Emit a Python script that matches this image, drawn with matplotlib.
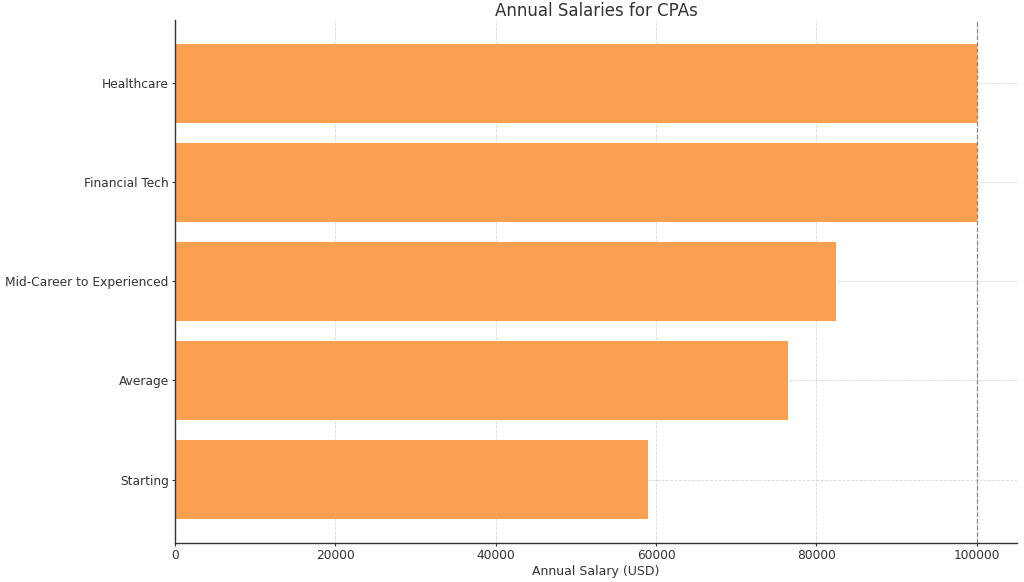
import matplotlib.pyplot as plt

# Data
categories = ["Starting", "Average", "Mid-Career to Experienced", "Financial Tech", "Healthcare"]
salaries = [59000, 76500, 82500, 100000, 100000]
x_ticks = [0, 20000, 40000, 60000, 80000, 100000]

bar_color = "#FBA050"
text_color = "#333333"

fig = plt.figure(figsize=(10.24, 5.82), dpi=100)
ax = fig.add_axes([0.171, 0.067, 0.822, 0.899])

ax.barh(categories, salaries, height=0.8, color=bar_color, zorder=2)

ax.grid(True, linestyle="--", linewidth=0.6, color="#d8d8d8", zorder=0)
ax.axvline(100000, linestyle="--", linewidth=0.9, color="#888888", zorder=3)

ax.set_xlim(0, 105000)
ax.set_xticks(x_ticks)
ax.set_xticklabels([str(t) for t in x_ticks])
ax.set_xlabel("Annual Salary (USD)", fontsize=9, color=text_color, labelpad=2)
ax.set_title("Annual Salaries for CPAs", fontsize=12, color=text_color, pad=3)

ax.tick_params(axis="both", labelsize=8.8, colors=text_color, length=2.5, pad=2)
for side in ["top", "right"]:
    ax.spines[side].set_visible(False)
for side in ["left", "bottom"]:
    ax.spines[side].set_color(text_color)
    ax.spines[side].set_linewidth(1.0)

plt.savefig("out.png", dpi=100)
